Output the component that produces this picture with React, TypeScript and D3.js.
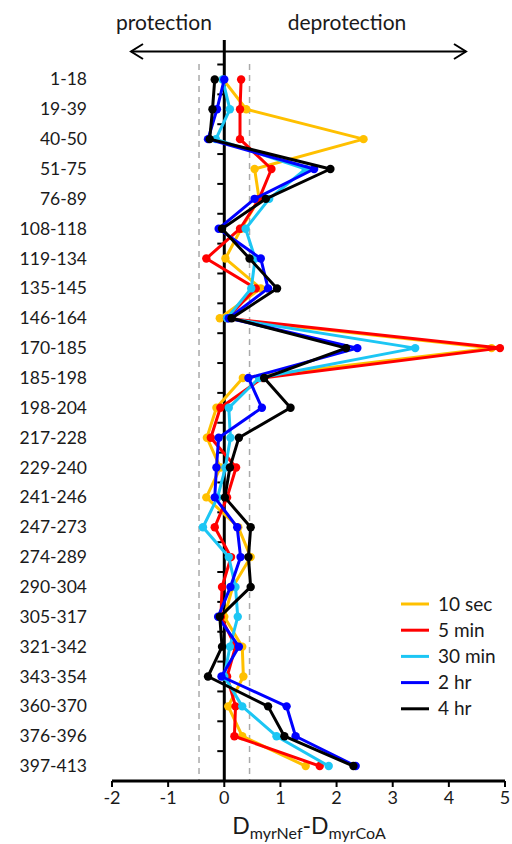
import React from "react";
import * as d3 from "d3";

const categories = ["1-18","19-39","40-50","51-75","76-89","108-118","119-134","135-145","146-164","170-185","185-198","198-204","217-228","229-240","241-246","247-273","274-289","290-304","305-317","321-342","343-354","360-370","376-396","397-413"];

const sec10 = [-0.02,0.39,2.48,0.54,0.62,0.30,0.02,0.65,-0.08,4.76,0.33,-0.14,-0.31,-0.07,-0.32,0.25,0.47,0.15,0.0,0.32,0.34,0.07,0.32,1.45];
const min5 = [0.30,0.28,0.28,0.84,0.62,0.28,-0.32,0.56,0.05,4.91,0.68,-0.07,-0.24,0.21,0.05,-0.17,0.12,-0.04,-0.06,0.20,0.05,0.20,0.18,1.70];
const min30 = [-0.03,0.10,-0.15,1.45,0.80,0.38,0.55,0.48,0.05,3.40,0.62,0.08,0.11,0.02,-0.12,-0.38,0.08,0.20,0.24,0.10,0.0,0.32,0.93,1.86];
const hr2 = [0.0,-0.13,-0.29,1.60,0.54,-0.10,0.65,0.78,0.08,2.37,0.43,0.67,-0.10,-0.14,-0.17,0.23,0.29,0.11,-0.11,0.26,-0.05,1.11,1.27,2.34];
const hr4 = [-0.17,-0.21,-0.26,1.89,0.74,-0.04,0.45,0.94,0.13,2.17,0.71,1.18,0.26,0.10,0.01,0.47,0.43,0.47,-0.08,-0.04,-0.29,0.78,1.07,2.30];

const seriesNames = ["10 sec","5 min","30 min","2 hr","4 hr"];
const seriesColors = ["#FFC000","#FF0000","#1CC6F4","#0000FF","#000000"];
const seriesData = [sec10, min5, min30, hr2, hr4];
const xTicks = [-2,-1,0,1,2,3,4,5];
const thresholds = [-0.45, 0.45];

const FONT = "Lato, 'Open Sans', sans-serif";

export default function App() {
  const W = 512, H = 844;
  const x = d3.scaleLinear().domain([-2, 5]).range([112, 505]);
  const y = d3.scaleBand<string>().domain(categories).range([64.5, 781]).padding(0);
  const bw = y.bandwidth();
  const cy = (c: string) => (y(c) as number) + bw / 2;
  const x0 = x(0);
  const axisY = 781;

  const line = d3.line<number>()
    .x((d) => x(d))
    .y((_, i) => cy(categories[i]));

  const boundaries = categories.map((c) => y(c) as number);

  return (
    <svg width={W} height={H} style={{ position: "absolute", left: 0, top: 0 }} fontFamily={FONT}>
      <rect width={W} height={H} fill="#fff" />
      {/* header */}
      <text x={164} y={30} textAnchor="middle" fontSize={21} fill="#1a1a1a">protection</text>
      <text x={347} y={30} textAnchor="middle" fontSize={21} fill="#1a1a1a">deprotection</text>
      <line x1={131} x2={466} y1={51.5} y2={51.5} stroke="#000" strokeWidth={2} />
      <polyline points="143,44 131,51.5 143,59" fill="none" stroke="#000" strokeWidth={2} />
      <polyline points="454,44 466,51.5 454,59" fill="none" stroke="#000" strokeWidth={2} />

      {/* threshold dashed lines */}
      {thresholds.map((t) => (
        <line key={t} x1={x(t)} x2={x(t)} y1={64} y2={axisY} stroke="#AAAAAA" strokeWidth={1.5} strokeDasharray="6,5" />
      ))}

      {/* y axis */}
      <line x1={x0} x2={x0} y1={40} y2={axisY} stroke="#000" strokeWidth={3} />
      {boundaries.map((b, i) => (
        <line key={i} x1={x0 - 7} x2={x0} y1={b} y2={b} stroke="#000" strokeWidth={2} />
      ))}
      {categories.map((c) => (
        <text key={c} x={87} y={cy(c) + 6} textAnchor="end" fontSize={17.5} fill="#1a1a1a">{c}</text>
      ))}

      {/* x axis */}
      <line x1={x(-2)} x2={x(5)} y1={axisY} y2={axisY} stroke="#000" strokeWidth={3} />
      {xTicks.map((t) => (
        <g key={t}>
          <line x1={x(t)} x2={x(t)} y1={axisY} y2={axisY + 6} stroke="#000" strokeWidth={2} />
          <text x={x(t)} y={axisY + 23} textAnchor="middle" fontSize={18} fill="#1a1a1a">{t}</text>
        </g>
      ))}
      <text x={309} y={834} textAnchor="middle" fontSize={23} fill="#1a1a1a">
        D<tspan fontSize={16} dy={5}>myrNef</tspan><tspan dy={-5}>-D</tspan><tspan fontSize={16} dy={5}>myrCoA</tspan>
      </text>

      {/* series */}
      {seriesData.map((s, k) => (
        <g key={k}>
          <path d={line(s) || ""} fill="none" stroke={seriesColors[k]} strokeWidth={3} strokeLinejoin="round" />
          {s.map((v, i) => (
            <circle key={i} cx={x(v)} cy={cy(categories[i])} r={4.2} fill={seriesColors[k]} />
          ))}
        </g>
      ))}

      {/* legend */}
      {seriesNames.map((n, k) => (
        <g key={n}>
          <line x1={401} x2={429} y1={604 + k * 26.2} y2={604 + k * 26.2} stroke={seriesColors[k]} strokeWidth={3} />
          <text x={438} y={604 + k * 26.2 + 6.5} fontSize={19} fill="#1a1a1a">{n}</text>
        </g>
      ))}
    </svg>
  );
}
